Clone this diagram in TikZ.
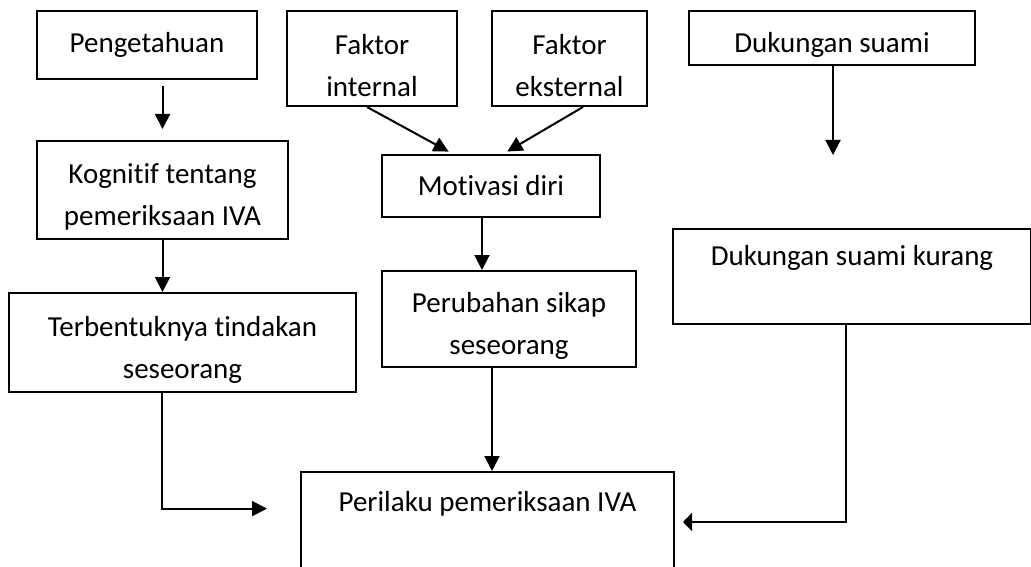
\documentclass[tikz,border=0pt]{standalone}
\usepackage{fontspec}
\setmainfont{Carlito}[Ligatures=NoCommon]
\usetikzlibrary{arrows.meta,positioning,calc}
\newcommand{\atas}{\rule{0pt}{34pt}}

\begin{document}
\begin{tikzpicture}[x=1pt, y=-1pt, line width=2pt,
	kotak/.style={draw, rectangle, align=center, inner sep=0pt, font=\fontsize{29}{42}\selectfont},
	panah/.style={-{Triangle[length=15pt, width=15pt]}}]
	\useasboundingbox (0,0) rectangle (1031,567);
	% kolom kiri
	\node[kotak, minimum width=220pt, minimum height=68pt] (tahu) at (147,45) {Pengetahuan};
	\node[kotak, minimum width=251pt, minimum height=98pt] (kognitif) at (162.5,190) {\atas Kognitif tentang\\pemeriksaan IVA};
	\node[kotak, minimum width=347pt, minimum height=99pt] (tindakan) at (182.5,342.5) {\atas Terbentuknya tindakan\\seseorang};
	% kolom tengah
	\node[kotak, minimum width=170pt, minimum height=95pt] (internal) at (372,58.5) {\atas Faktor\\internal};
	\node[kotak, minimum width=155pt, minimum height=95pt] (eksternal) at (569.5,58.5) {\atas Faktor\\eksternal};
	\node[kotak, minimum width=218pt, minimum height=62pt] (motivasi) at (491,186) {Motivasi diri};
	\node[kotak, minimum width=254pt, minimum height=96pt] (sikap) at (509,319) {\atas Perubahan sikap\\seseorang};
	% kolom kanan
	\node[kotak, minimum width=286pt, minimum height=54pt] (suami) at (832,38) {\atas Dukungan suami};
	\node[kotak, anchor=north west, minimum width=358pt, text height=36pt, text depth=59pt] (kurang) at (672,228) {Dukungan suami kurang};
	% hasil
	\node[kotak, anchor=north west, minimum width=373pt, text height=39pt, text depth=91pt] (perilaku) at (300,471) {Perilaku pemeriksaan IVA};
	\coordinate (masuk) at (673,522);

	\draw[panah, shorten <=6pt, shorten >=11pt] (kognitif.north |- tahu.south) -- (kognitif.north);
	\draw[panah] (kognitif.south) -- (kognitif.south |- tindakan.north);
	\draw[panah, shorten >=5pt] ([xshift=-5pt]internal.south) -- ([xshift=-38pt]motivasi.north);
	\draw[panah, shorten >=5pt] ([xshift=13.5pt]eksternal.south) -- ([xshift=12pt]motivasi.north);
	\draw[panah] ([xshift=-9pt]motivasi.south) -- ([xshift=-9pt]motivasi.south |- sikap.north);
	\draw[panah] ([xshift=-17pt]sikap.south) -- ([xshift=-17pt]sikap.south |- perilaku.north);
	\draw[panah, shorten >=73pt] ([xshift=1pt]suami.south) -- ([xshift=1pt]suami.south |- kurang.north);
	\draw[panah, shorten >=33pt] ([xshift=-20.5pt]tindakan.south) |- (perilaku.mid west);
	\draw[-{Triangle[length=9pt, width=18pt]}, shorten >=10pt] ([xshift=-6pt]kurang.south) |- (masuk);
\end{tikzpicture}
\end{document}
